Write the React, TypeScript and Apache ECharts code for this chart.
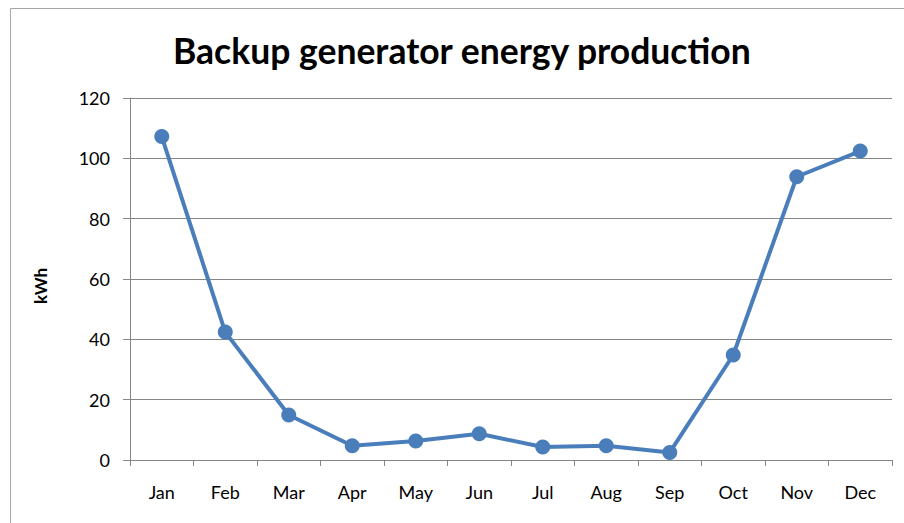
import React, { useEffect, useRef } from "react";
import * as echarts from "echarts";

const months = ["Jan", "Feb", "Mar", "Apr", "May", "Jun", "Jul", "Aug", "Sep", "Oct", "Nov", "Dec"];
const production = [107.2, 42.4, 14.9, 4.7, 6.3, 8.7, 4.3, 4.7, 2.5, 34.8, 93.9, 102.4];
const titleText = "Backup generator energy production";
const yAxisName = "kWh";

const FONT = "Lato, 'Open Sans', sans-serif";

export default function App() {
  const ref = useRef<HTMLDivElement>(null);
  useEffect(() => {
    if (!ref.current) return;
    const chart = echarts.init(ref.current, null, { renderer: "svg" });
    chart.setOption({
      animation: false,
      backgroundColor: "#ffffff",
      title: {
        text: titleText,
        left: 168,
        top: 27,
        textStyle: { fontFamily: FONT, fontWeight: "bold", fontSize: 35.5, color: "#000" },
      },
      graphic: [
        {
          type: "rect",
          shape: { x: 10.5, y: 8.5, width: 1000, height: 1000 },
          style: { fill: "none", stroke: "#a6a6a6", lineWidth: 1 },
          silent: true,
        },
        {
          type: "text",
          x: 40,
          y: 286,
          rotation: Math.PI / 2,
          style: {
            text: yAxisName,
            fontFamily: FONT,
            fontWeight: "bold",
            fontSize: 17,
            fill: "#000",
            align: "center",
            verticalAlign: "middle",
          },
        },
      ],
      grid: { left: 130, right: 12, top: 98, bottom: 63 },
      xAxis: {
        type: "category",
        data: months,
        boundaryGap: true,
        axisLine: { show: true, lineStyle: { color: "#868686", width: 1 } },
        axisTick: { show: true, length: 6, alignWithLabel: false, lineStyle: { color: "#868686" } },
        axisLabel: { fontFamily: FONT, fontSize: 18, color: "#000", margin: 23 },
        splitLine: { show: false },
      },
      yAxis: {
        type: "value",
        min: 0,
        max: 120,
        interval: 20,
        axisLine: { show: true, lineStyle: { color: "#868686", width: 1 } },
        axisTick: { show: true, length: 7, inside: false, lineStyle: { color: "#868686" } },
        axisLabel: { fontFamily: FONT, fontSize: 18, color: "#000", margin: 20 },
        splitLine: { show: true, lineStyle: { color: "#868686", width: 1 } },
      },
      series: [
        {
          type: "line",
          data: production,
          symbol: "circle",
          symbolSize: 15,
          lineStyle: { color: "#4a7ebb", width: 4 },
          itemStyle: { color: "#4a7ebb" },
        },
      ],
    });
    return () => chart.dispose();
  }, []);
  return <div ref={ref} style={{ position: "absolute", left: 0, top: 0, width: 904, height: 523 }} />;
}
